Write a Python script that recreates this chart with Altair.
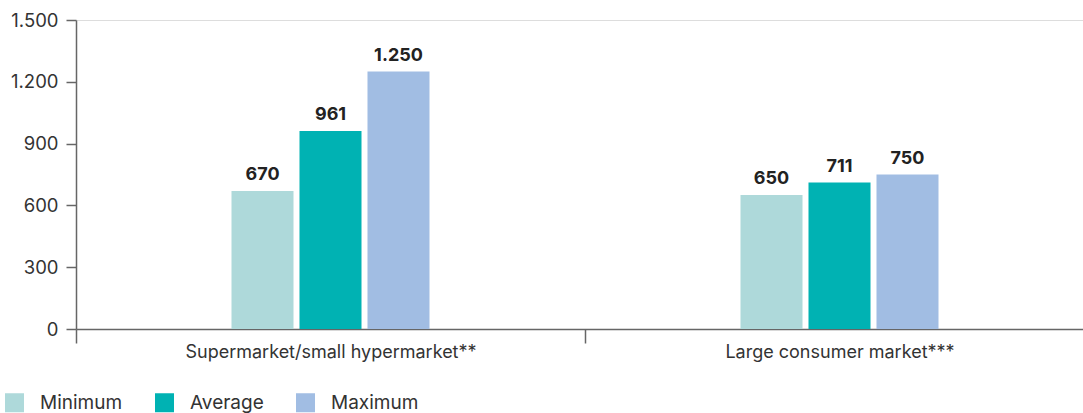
import altair as alt
import pandas as pd

categories = ["Supermarket/small hypermarket**", "Large consumer market***"]
series = ["Minimum", "Average", "Maximum"]
minimum = [670, 650]
average = [961, 711]
maximum = [1250, 750]
colors = ["#AED9DA", "#00B2B3", "#A1BDE3"]
y_ticks = [0, 300, 600, 900, 1200, 1500]

rows = []
for i, c in enumerate(categories):
    for s, vals in zip(series, [minimum, average, maximum]):
        rows.append({"category": c, "series": s, "value": vals[i]})
df = pd.DataFrame(rows)

FONT = "Inter"

base = alt.Chart(df).encode(
    x=alt.X(
        "category:N",
        sort=categories,
        scale=alt.Scale(range=[0, 1018], paddingInner=0, paddingOuter=0),
        axis=alt.Axis(
            title=None,
            labelAngle=0,
            labelFontSize=18,
            labelColor="#333333",
            labelFont=FONT,
            labelPadding=0,
            labelLimit=0,
            tickBand="extent",
            tickSize=14,
            tickColor="#666666",
            domainColor="#666666",
            tickWidth=1.5,
            domainWidth=1.5,
        ),
    ),
    xOffset=alt.XOffset(
        "series:N",
        sort=series,
        scale=alt.Scale(range=[155.5, 353.5], paddingInner=0.088, paddingOuter=0),
    ),
)

bars = base.mark_bar().encode(
    y=alt.Y(
        "value:Q",
        scale=alt.Scale(domain=[0, 1500], nice=False),
        axis=alt.Axis(
            title=None,
            values=y_ticks,
            labelExpr="replace(format(datum.value, ','), ',', '.')",
            labelFontSize=18.5,
            labelColor="#333333",
            labelFont=FONT,
            labelPadding=8,
            tickSize=10,
            tickColor="#666666",
            domainColor="#666666",
            tickWidth=1.5,
            domainWidth=1.5,
            grid=False,
        ),
    ),
    color=alt.Color(
        "series:N",
        sort=series,
        scale=alt.Scale(domain=series, range=colors),
        legend=alt.Legend(
            title=None,
            orient="none",
            legendX=-71,
            legendY=373,
            direction="horizontal",
            symbolType="square",
            symbolSize=361,
            symbolStrokeWidth=0,
            labelFontSize=19,
            labelFont=FONT,
            labelColor="#333333",
            labelOffset=16,
            columnPadding=32,
            padding=0,
            labelLimit=0,
        ),
    ),
)

labels = base.mark_text(
    baseline="bottom", dy=-7, fontSize=18, fontWeight="bold", font=FONT, color="#222222"
).transform_calculate(
    label="replace(format(datum.value, ','), ',', '.')"
).encode(
    y=alt.Y("value:Q"),
    text="label:N",
)

chart = (
    alt.layer(bars, labels)
    .properties(
        width=1007,
        height=309,
        autosize=alt.AutoSizeParams(type="none"),
        padding={"left": 76, "top": 20, "right": 0, "bottom": 84},
    )
    .configure_view(stroke=None)
    .configure(background="white")
)

chart.save("out.html", embed_options={"renderer": "svg", "actions": False})
